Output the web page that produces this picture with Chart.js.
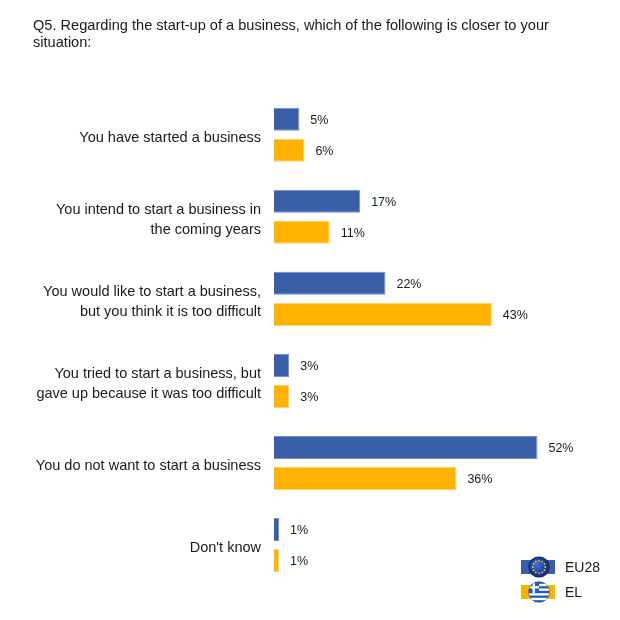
<!DOCTYPE html>
<html lang="en">
<head>
  <meta charset="UTF-8" />
  <title>Q5 start-up of a business</title>
  <script src="https://cdn.jsdelivr.net/npm/chart.js"></script>
  <style>
    html, body { margin: 0; padding: 0; background: #fff; }
    #wrap { width: 620px; height: 620px; }
  </style>
</head>
<body>
  <div id="wrap"><canvas id="chart"></canvas></div>
  <script>
    // data
    const categories = [
      'You have started a business',
      ['You intend to start a business in', 'the coming years'],
      ['You would like to start a business,', 'but you think it is too difficult'],
      ['You tried to start a business, but', 'gave up because it was too difficult'],
      'You do not want to start a business',
      "Don't know"
    ];
    const seriesNames = ['EU28', 'EL'];
    const eu28 = [5, 17, 22, 3, 52, 1];
    const el = [6, 11, 43, 3, 36, 1];

    const BLUE = '#3a5fa9';
    const ORANGE = '#ffb300';
    const FONT = '"Liberation Sans", Arial, sans-serif';

    // value labels at the end of each bar
    const valueLabels = {
      id: 'valueLabels',
      afterDatasetsDraw(chart) {
        const ctx = chart.ctx;
        ctx.save();
        ctx.font = '12.5px ' + FONT;
        ctx.fillStyle = '#1a1a1a';
        ctx.textAlign = 'left';
        ctx.textBaseline = 'middle';
        chart.data.datasets.forEach((ds, i) => {
          chart.getDatasetMeta(i).data.forEach((bar, j) => {
            ctx.fillText(ds.data[j] + '%', bar.x + 11, bar.y + 1);
          });
        });
        ctx.restore();
      }
    };

    // legend with flag badges, bottom right
    const flagLegend = {
      id: 'flagLegend',
      afterDraw(chart) {
        const ctx = chart.ctx;
        const items = [
          { name: seriesNames[0], color: BLUE, y: 567, flag: 'eu' },
          { name: seriesNames[1], color: ORANGE, y: 592, flag: 'el' }
        ];
        ctx.save();
        items.forEach(it => {
          ctx.fillStyle = it.color;
          ctx.fillRect(521, it.y - 7, 34, 14);
          const cx = 539, cy = it.y, r = 10.5;
          ctx.save();
          ctx.beginPath();
          ctx.arc(cx, cy, r, 0, Math.PI * 2);
          ctx.clip();
          if (it.flag === 'eu') {
            const g = ctx.createRadialGradient(cx - 3, cy - 3, 1, cx, cy, r);
            g.addColorStop(0, '#3f6fd8');
            g.addColorStop(1, '#0b2a7a');
            ctx.fillStyle = g;
            ctx.fillRect(cx - r, cy - r, r * 2, r * 2);
            ctx.fillStyle = '#ffd400';
            for (let k = 0; k < 12; k++) {
              const a = k * Math.PI / 6;
              ctx.beginPath();
              ctx.arc(cx + Math.cos(a) * 6.3, cy + Math.sin(a) * 6.3, 0.9, 0, Math.PI * 2);
              ctx.fill();
            }
          } else {
            ctx.fillStyle = '#ffffff';
            ctx.fillRect(cx - r, cy - r, r * 2, r * 2);
            ctx.fillStyle = '#1d5fc4';
            const h = (r * 2) / 9;
            for (let k = 0; k < 9; k += 2) {
              ctx.fillRect(cx - r, cy - r + k * h, r * 2, h);
            }
            ctx.fillRect(cx - r, cy - r, r, h * 5);
            ctx.fillStyle = '#ffffff';
            ctx.fillRect(cx - r, cy - r + h * 2, r, h);
            ctx.fillRect(cx - r + r / 2 - h / 2, cy - r, h, h * 5);
          }
          ctx.restore();
          ctx.strokeStyle = 'rgba(0,0,0,0.35)';
          ctx.lineWidth = 0.8;
          ctx.beginPath();
          ctx.arc(cx, cy, r, 0, Math.PI * 2);
          ctx.stroke();
          ctx.fillStyle = '#1a1a1a';
          ctx.font = '14px ' + FONT;
          ctx.textAlign = 'left';
          ctx.textBaseline = 'middle';
          ctx.fillText(it.name, 565, it.y + 1);
        });
        ctx.restore();
      }
    };

    new Chart(document.getElementById('chart'), {
      type: 'bar',
      data: {
        labels: categories,
        datasets: [
          { label: seriesNames[0], data: eu28, backgroundColor: BLUE, borderColor: '#6f8fcc', borderWidth: 1,
            categoryPercentage: 0.756, barPercentage: 0.742 },
          { label: seriesNames[1], data: el, backgroundColor: ORANGE, borderColor: '#ffd36a', borderWidth: 1,
            categoryPercentage: 0.756, barPercentage: 0.742 }
        ]
      },
      options: {
        indexAxis: 'y',
        responsive: true,
        maintainAspectRatio: false,
        animation: false,
        layout: { padding: { left: 33, right: 42, top: 0, bottom: 34 } },
        plugins: {
          legend: { display: false },
          tooltip: { enabled: false },
          title: {
            display: true,
            align: 'start',
            text: ['Q5. Regarding the start-up of a business, which of the following is closer to your', 'situation:'],
            color: '#1a1a1a',
            font: { family: FONT, size: 14.6, weight: 'normal', lineHeight: 1.15 },
            padding: { top: 17.5, bottom: 42.7 }
          }
        },
        scales: {
          x: { display: false, min: 0, max: 60 },
          y: {
            grid: { display: false, drawTicks: false },
            border: { display: false },
            ticks: {
              color: '#1a1a1a',
              padding: 13,
              labelOffset: 3,
              font: { family: FONT, size: 14.5, lineHeight: 1.38 }
            },
            afterFit(scale) { scale.width = 241; }
          }
        }
      },
      plugins: [valueLabels, flagLegend]
    });
  </script>
</body>
</html>
